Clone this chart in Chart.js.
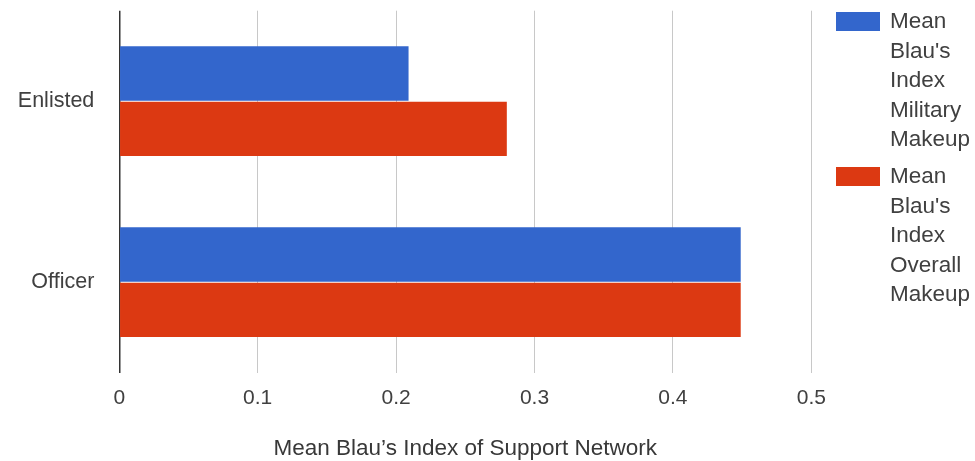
<!DOCTYPE html>
<html>
<head>
<meta charset="utf-8">
<script src="https://cdn.jsdelivr.net/npm/chart.js@4/dist/chart.umd.min.js"></script>
<style>
  html, body { margin: 0; padding: 0; background: #ffffff; }
  #wrap { width: 975px; height: 461px; position: relative; }
</style>
</head>
<body>
<div id="wrap"><canvas id="chart" width="975" height="461"></canvas></div>
<script>
// Rank groups and the two Blau's index means per group
const categories = ['Enlisted', 'Officer'];
const militaryMakeup = [0.209, 0.449];
const overallMakeup = [0.280, 0.449];
const seriesNames = ["Mean Blau's Index Military Makeup", "Mean Blau's Index Overall Makeup"];
const xTickValues = [0, 0.1, 0.2, 0.3, 0.4, 0.5];
const axisTitle = 'Mean Blau\u2019s Index of Support Network';

const FONT = '"Liberation Sans", Arial, sans-serif';
const TEXT = '#404040';

// Wrapped legend on the right-hand side
const sideLegend = {
  id: 'sideLegend',
  afterDraw(chart) {
    const ctx = chart.ctx;
    const boxX = 836, boxW = 44, boxH = 19;
    const textX = 890;
    const maxW = chart.width - textX - 1;
    const lineGap = 29.5;
    let top = 12;
    ctx.save();
    ctx.font = '22.5px ' + FONT;
    ctx.textBaseline = 'middle';
    ctx.textAlign = 'left';
    chart.data.datasets.forEach(ds => {
      ctx.fillStyle = ds.backgroundColor;
      ctx.fillRect(boxX, top, boxW, boxH);
      // word wrap the label
      const words = ds.label.split(' ');
      const lines = [];
      let cur = '';
      words.forEach(w => {
        const test = cur ? cur + ' ' + w : w;
        if (cur && ctx.measureText(test).width > maxW) { lines.push(cur); cur = w; }
        else cur = test;
      });
      if (cur) lines.push(cur);
      ctx.fillStyle = TEXT;
      let y = top + 10;
      lines.forEach(l => { ctx.fillText(l, textX, y); y += lineGap; });
      top += lines.length * lineGap + 7.5;
    });
    ctx.restore();
  }
};

new Chart(document.getElementById('chart'), {
  type: 'bar',
  data: {
    labels: categories,
    datasets: [
      { label: seriesNames[0], data: militaryMakeup, backgroundColor: '#3366cc' },
      { label: seriesNames[1], data: overallMakeup, backgroundColor: '#dc3912' }
    ]
  },
  options: {
    indexAxis: 'y',
    responsive: false,
    animation: false,
    devicePixelRatio: 1,
    layout: { padding: { top: 10.7, right: 163.7, left: 0, bottom: 0 } },
    datasets: { bar: { categoryPercentage: 0.613, barPercentage: 0.98, borderWidth: 0 } },
    plugins: { legend: { display: false }, tooltip: { enabled: false } },
    scales: {
      x: {
        min: 0, max: 0.5,
        afterBuildTicks(scale) { scale.ticks = xTickValues.map(v => ({ value: v })); },
        afterFit(scale) { scale.height = 88.3; },
        border: { display: false },
        grid: {
          drawTicks: false,
          color: c => (c.tick && c.tick.value === 0) ? '#333333' : '#c8c8c8',
          lineWidth: c => (c.tick && c.tick.value === 0) ? 1.5 : 1
        },
        ticks: {
          padding: 13,
          color: TEXT,
          font: { family: FONT, size: 21 },
          callback: v => Number(Number(v).toFixed(1)).toString()
        },
        title: {
          display: true,
          text: axisTitle,
          color: '#383838',
          font: { family: FONT, size: 22.5, lineHeight: 1 },
          padding: { top: 0, bottom: 1 }
        }
      },
      y: {
        afterFit(scale) {
          scale.width = 119.3;
          scale.paddingTop = 0;
          scale.paddingBottom = 0;
        },
        border: { display: false },
        grid: { display: false, drawTicks: false },
        ticks: {
          padding: 25,
          color: TEXT,
          font: { family: FONT, size: 21.5 }
        }
      }
    }
  },
  plugins: [sideLegend]
});
</script>
</body>
</html>
